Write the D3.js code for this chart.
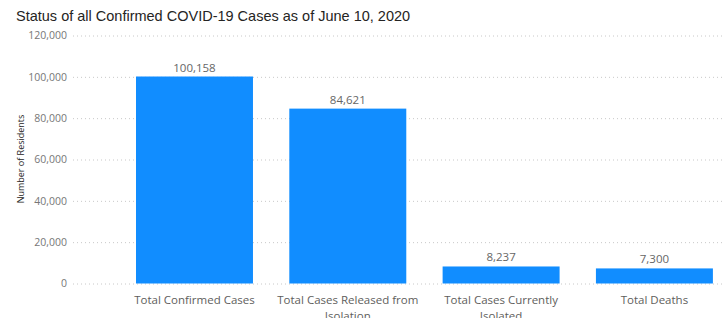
<!DOCTYPE html>
<html>
<head>
<meta charset="utf-8">
<script src="https://cdn.jsdelivr.net/npm/d3@7"></script>
<style>
  body { margin: 0; background: #fff; }
  text { font-family: "Open Sans", "Noto Sans", sans-serif; }
</style>
</head>
<body>
<div id="chart"></div>
<script>
var categories = ['Total Confirmed Cases', 'Total Cases Released from Isolation', 'Total Cases Currently Isolated', 'Total Deaths']
var values = [100158, 84621, 8237, 7300]
var yTicks = [0, 20000, 40000, 60000, 80000, 100000, 120000]

var w = 725,
    h = 318

var svg = d3.select('#chart')
    .append('svg')
    .attr('width', w)
    .attr('height', h)

var x = d3.scaleBand()
    .domain(categories)
    .range([117.6, 731.3])
    .paddingInner(0.237)
    .paddingOuter(0.12)

var y = d3.scaleLinear()
    .domain([0, 120000])
    .range([283.5, 35.5])

// title
svg.append('text')
    .text('Status of all Confirmed COVID-19 Cases as of June 10, 2020')
    .attr('x', 16)
    .attr('y', 21)
    .style('font-family', '"Liberation Sans", sans-serif')
    .style('font-size', '14.5px')
    .attr('fill', '#252423')

// y axis with dotted grid
var yaxis = d3.axisLeft(y)
    .tickValues(yTicks)
    .tickSize(-(w - 73))
    .tickPadding(6)
    .tickFormat(d3.format(','))

var ga = svg.append('g')
    .attr('transform', 'translate(73, 0)')
    .call(yaxis)
ga.select('.domain').remove()
ga.selectAll('line')
    .attr('stroke', '#c8c8c8')
    .attr('stroke-dasharray', '1,3')
ga.selectAll('text')
    .attr('fill', '#777')
    .style('font-size', '10.5px')

// y axis title
svg.append('text')
    .text('Number of Residents')
    .attr('text-anchor', 'middle')
    .attr('transform', 'translate(24, 159) rotate(-90)')
    .style('font-size', '9px')
    .attr('fill', '#252423')

// bars
svg.selectAll('rect.bar')
    .data(values)
    .enter()
    .append('rect')
    .attr('class', 'bar')
    .attr('x', (d, i) => x(categories[i]))
    .attr('y', d => y(d))
    .attr('width', x.bandwidth())
    .attr('height', d => y(0) - y(d))
    .attr('fill', '#118dff')

// value labels
svg.selectAll('text.val')
    .data(values)
    .enter()
    .append('text')
    .attr('class', 'val')
    .text(d => d3.format(',')(d))
    .attr('text-anchor', 'middle')
    .attr('x', (d, i) => x(categories[i]) + x.bandwidth() / 2)
    .attr('y', d => y(d) - 5)
    .style('font-size', '11.5px')
    .attr('fill', '#666')

// category labels (wrapped)
var lines = [['Total Confirmed Cases'], ['Total Cases Released from', 'Isolation'], ['Total Cases Currently', 'Isolated'], ['Total Deaths']]
categories.forEach(function (c, i) {
    var t = svg.append('text')
        .attr('text-anchor', 'middle')
        .attr('x', x(c) + x.bandwidth() / 2)
        .attr('y', 304)
        .style('font-size', '11.5px')
        .attr('fill', '#605e5c')
    lines[i].forEach(function (l, j) {
        t.append('tspan')
            .attr('x', x(c) + x.bandwidth() / 2)
            .attr('dy', j === 0 ? 0 : 16)
            .text(l)
    })
})
</script>
</body>
</html>
